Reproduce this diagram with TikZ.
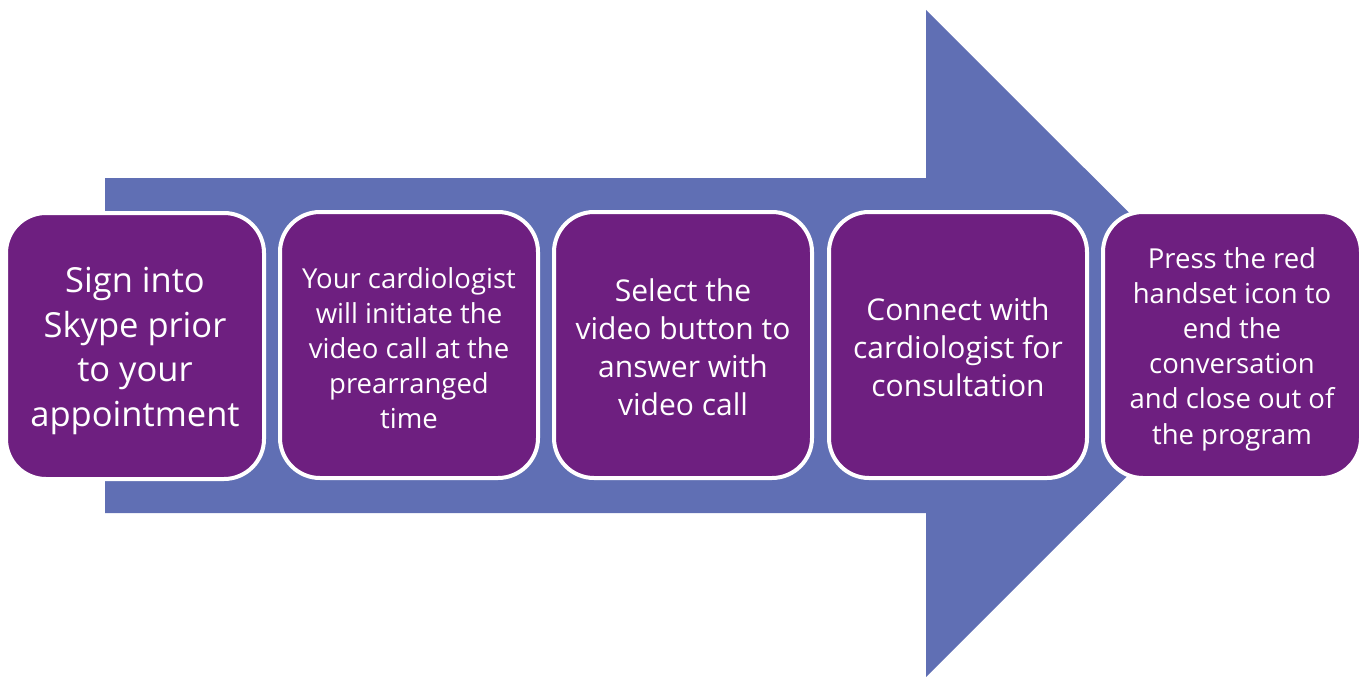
\documentclass[tikz,border=0pt]{standalone}
\usepackage{fontspec}
\setmainfont{Open Sans}
\definecolor{arrowblue}{RGB}{96,111,180}
\definecolor{boxpurple}{RGB}{110,31,128}
\begin{document}
\begin{tikzpicture}[x=1pt,y=-1pt,
  stepbox/.style={draw=white, line width=4pt, fill=boxpurple, rounded corners=40pt,
    minimum width=258pt, minimum height=266pt, inner sep=0pt},
  steptext/.style={align=center, text=white, inner sep=0pt}]
\useasboundingbox (0,0) rectangle (1365,677);
\fill[arrowblue] (105,178) -- (926,178) -- (926,10) -- (1260,343.5) -- (926,677) -- (926,513) -- (105,513) -- cycle;
\node[stepbox] (b1) at (135,346) {};
\node[stepbox] (b2) at (409,345) {};
\node[stepbox] (b3) at (683,345) {};
\node[stepbox] (b4) at (958,345) {};
\node[stepbox] (b5) at (1232,345) {};
\node[steptext, font=\fontsize{34.5}{44.5}\selectfont] (t1) at ([yshift=-5pt]b1.center) {Sign into\\Skype prior\\to your\\appointment};
\node[steptext, font=\fontsize{27.5}{35}\selectfont] (t2) at ([yshift=-3pt]b2.center) {Your cardiologist\\will initiate the\\video call at the\\prearranged\\time};
\node[steptext, font=\fontsize{30}{38}\selectfont] (t3) at ([yshift=-2pt]b3.center) {Select the\\video button to\\answer with\\video call};
\node[steptext, font=\fontsize{30}{38}\selectfont] (t4) at ([yshift=-2pt]b4.center) {Connect with\\cardiologist for\\consultation};
\node[steptext, font=\fontsize{27.5}{35.2}\selectfont] (t5) at ([yshift=-4pt]b5.center) {Press the red\\handset icon to\\end the\\conversation\\and close out of\\the program};
\end{tikzpicture}
\end{document}
